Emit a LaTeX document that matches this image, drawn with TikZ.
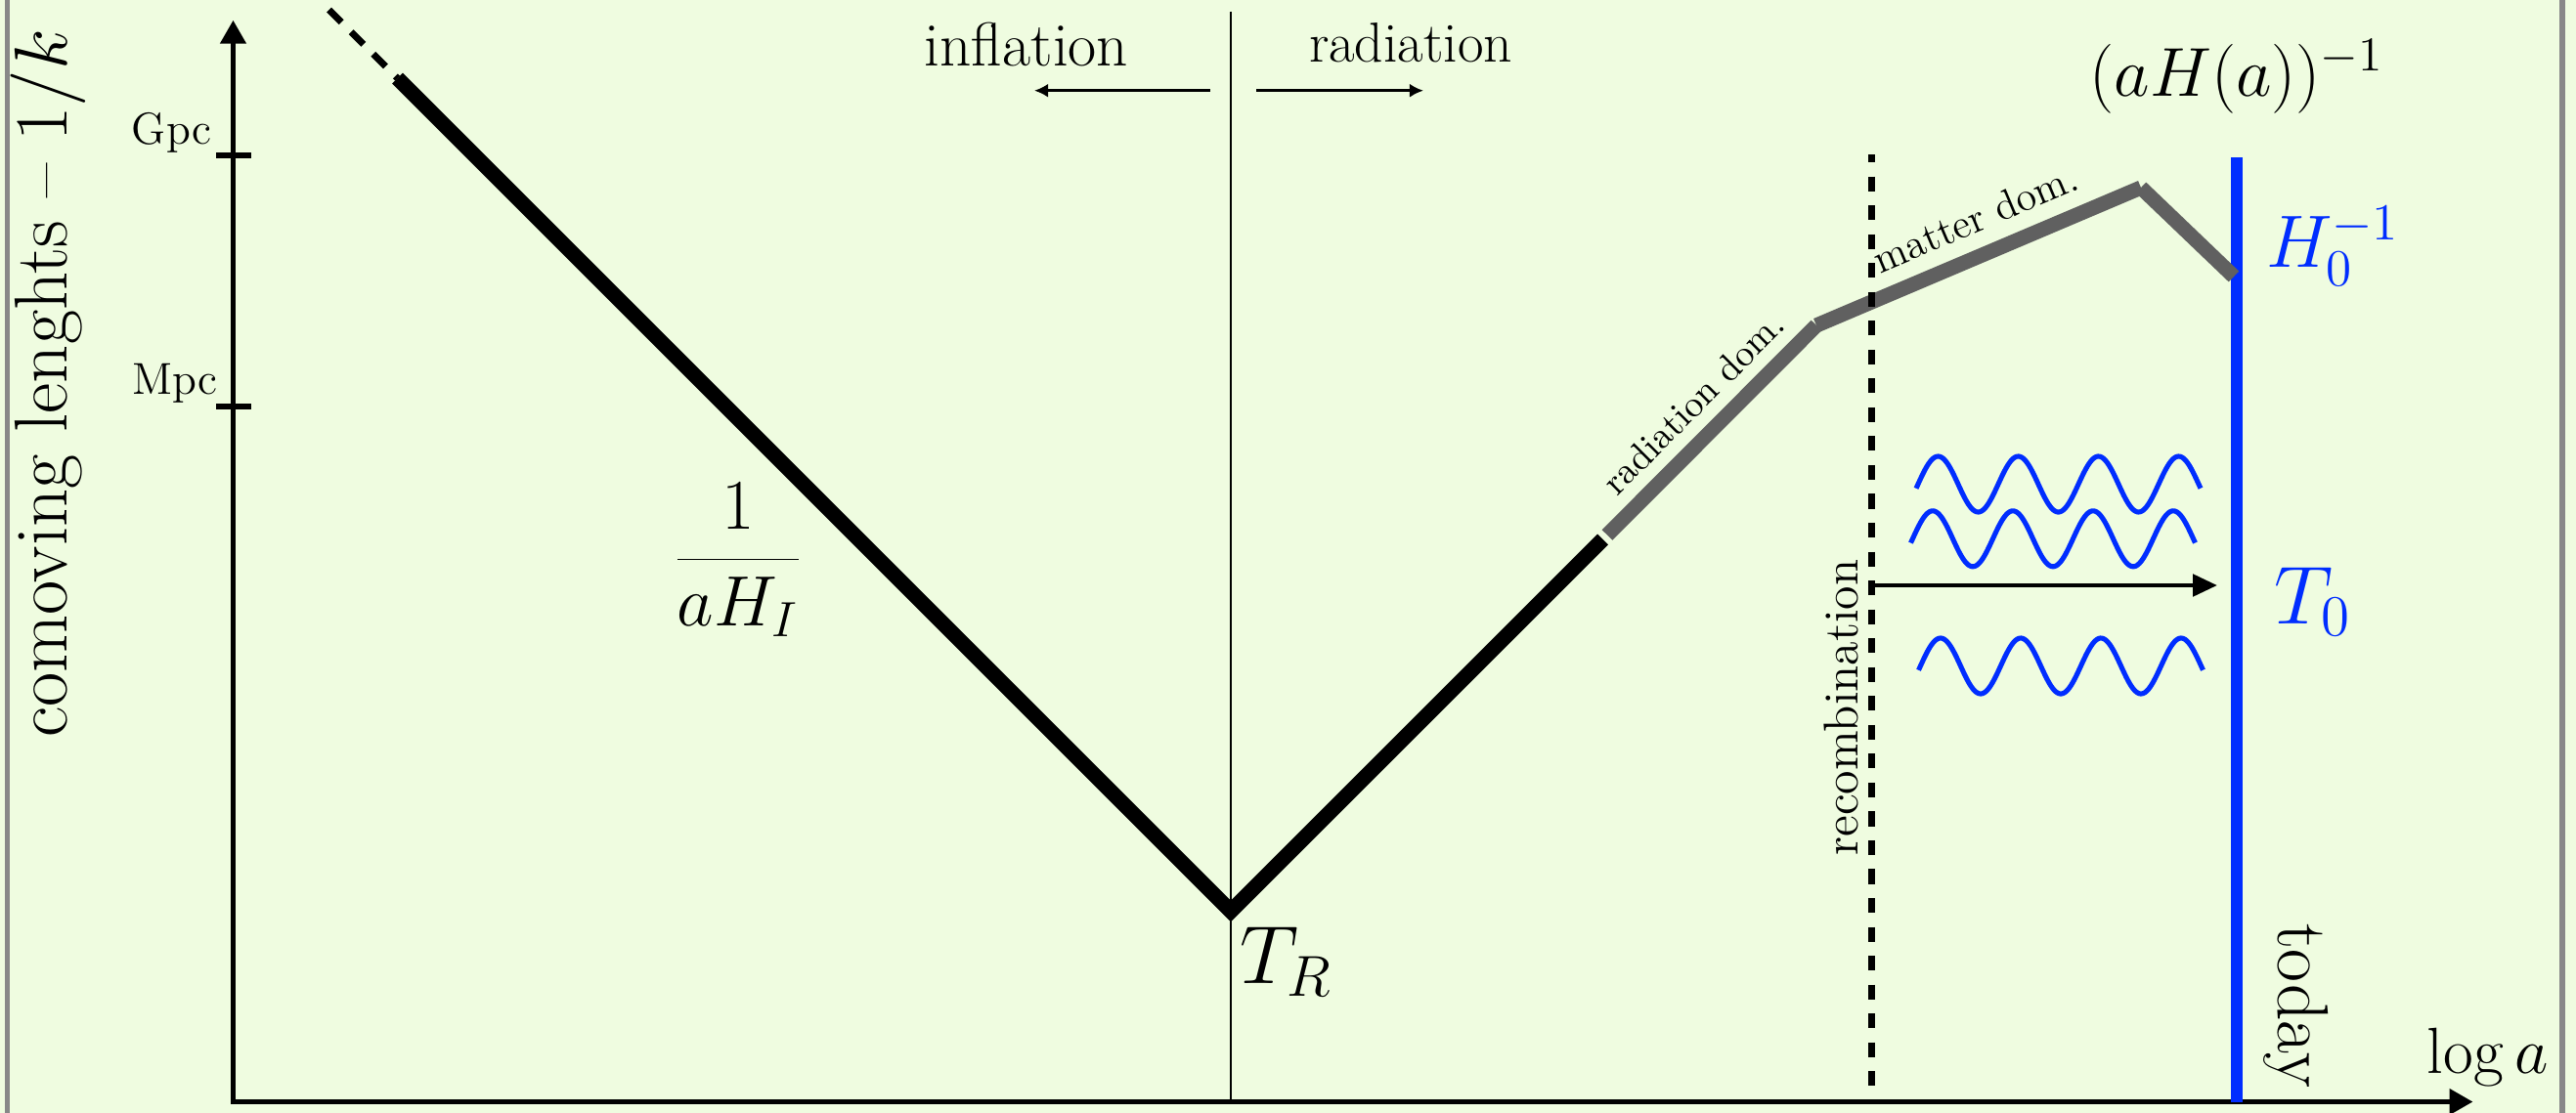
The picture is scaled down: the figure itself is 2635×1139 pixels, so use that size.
\RequirePackage{fix-cm}
\documentclass[tikz,border=0pt]{standalone}
\usetikzlibrary{arrows.meta}
\definecolor{bgc}{RGB}{239,252,224}
\definecolor{framec}{RGB}{136,136,136}
\definecolor{grayc}{RGB}{96,96,96}
\definecolor{bluec}{RGB}{0,45,255}
\newcommand{\fsz}[1]{\fontsize{#1}{#1}\selectfont}
\tikzset{
  lbl/.style={inner sep=0pt, outer sep=0pt},
  axisline/.style={line width=1.5pt, {Triangle[length=6.8pt,width=7.3pt]}-{Triangle[length=6.8pt,width=7.3pt]}},
  tickline/.style={line width=1.5pt},
  thinline/.style={line width=0.75pt},
  thinarrow/.style={line width=0.75pt, -{Latex[length=4pt,width=4pt]}},
  blackcurve/.style={line width=4.4pt},
  graycurve/.style={grayc, line width=4.3pt},
  leadin/.style={line width=2pt, dash pattern=on 5.1pt off 4pt},
  recline/.style={line width=1.85pt, dash pattern=on 4.3pt off 4.1pt, dash phase=2pt},
  todayline/.style={bluec, line width=3.6pt},
  photonarrow/.style={line width=1.34pt, -{Triangle[length=7.1pt,width=6.3pt]}},
  wave/.style={bluec, line width=1.45pt},
}
\begin{document}
\begin{tikzpicture}[x=0.01cm,y=-0.01cm]
\useasboundingbox (0,0) rectangle (2635,1139);
\fill[bgc] (0,0) rectangle (2635,1139);
\draw[framec, line width=1.45pt] (7.5,0) -- (7.5,1139);
\draw[framec, line width=1.5pt] (2621,0) -- (2621,1139);

% axes
\coordinate (O) at (238.5,1127.5);
\coordinate (Ytip) at (238.5,20.7);
\coordinate (Xtip) at (2529.5,1127.5);
\draw[axisline] (Ytip) -- (O) -- (Xtip);

% ticks
\coordinate (gpcL) at (221,159);
\coordinate (gpcR) at (257,159);
\coordinate (mpcL) at (221,416);
\coordinate (mpcR) at (257,416);
\draw[tickline] (gpcL) -- (gpcR);
\draw[tickline] (mpcL) -- (mpcR);
\node[lbl, anchor=base east, font=\fsz{13pt}] (gpc) at (216,147) {Gpc};
\node[lbl, anchor=base east, font=\fsz{13pt}] (mpc) at (222,403) {Mpc};

% y label
\node[lbl, rotate=90, anchor=base, font=\fsz{21.8pt}] (ylab) at (68,392.5) {comoving lenghts \textendash{} $1/k$};

% reheating line
\coordinate (trTop) at (1259,11.7);
\coordinate (trBot) at (1259,1127.5);
\draw[thinline] (trTop) -- (trBot);

\node[lbl, anchor=base, font=\fsz{18pt}] (infl) at (1050,67) {inflation};
\node[lbl, anchor=base, font=\fsz{16.4pt}] (rad) at (1443,63.5) {radiation};
\coordinate (ia1) at (1238,92.7);
\coordinate (ia2) at (1058,92.7);
\coordinate (ra1) at (1285,92.7);
\coordinate (ra2) at (1456,92.7);
\draw[thinarrow] (ia1) -- (ia2);
\draw[thinarrow] (ra1) -- (ra2);

% today line
\coordinate (bTop) at (2288,161);
\coordinate (bBot) at (2288,1127.5);
\draw[todayline] (bTop) -- (bBot);

% Hubble radius curve
\coordinate (d0) at (336.5,10);
\coordinate (d1) at (406.5,80);
\coordinate (V) at (1259,932.5);
\coordinate (R1) at (1639.5,552);
\coordinate (R1g) at (1644,547.5);
\coordinate (K) at (1858,333);
\coordinate (P) at (2190,192);
\coordinate (E) at (2285,283);
\draw[leadin] (d0) -- (d1);
\draw[blackcurve] (d1) -- (V) -- (R1);
\draw[graycurve] (R1g) -- (K);
\draw[graycurve] (K) -- (P);
\draw[graycurve] (P) -- (E);

% recombination
\coordinate (rTop) at (1914.5,158);
\coordinate (rBot) at (1914.5,1127.5);
\draw[recline] (rTop) -- (rBot);
\coordinate (aS) at (1914.5,599);
\coordinate (aE) at (2268,599);
\draw[photonarrow] (aS) -- (aE);

% photon waves
\foreach \xs/\yc in {1960/495.5, 1954.5/551.3, 1962.5/681.5} {
  \draw[wave, domain=-0.15:22.14, samples=220, smooth, variable=\t]
    plot ({\xs + (\t+0.15)*291/22.29}, {\yc - 28.5*sin(\t r)});
}

% labels
\node[lbl, font=\fsz{20.74pt}] (frac) at (755,573) {$\displaystyle\frac{1}{aH_I}$};
\node[lbl, anchor=base west, font=\fsz{24pt}] (TR) at (1268,1006.7) {$T_R$};
\node[lbl, anchor=base, rotate=45, font=\fsz{10.8pt}] (rdom) at (1741,421.5) {radiation dom.};
\node[lbl, anchor=base, rotate=23, font=\fsz{11.9pt}] (mdom) at (2026,236.5) {matter dom.};
\node[lbl, anchor=base, font=\fsz{20.16pt}] (aHa) at (2288,98) {$(aH(a))^{-1}$};
\node[lbl, anchor=base west, text=bluec, font=\fsz{21.6pt}] (H0) at (2318,273.3) {$H_0^{-1}$};
\node[lbl, anchor=base west, text=bluec, font=\fsz{24pt}] (T0) at (2326,638) {$T_0$};
\node[lbl, anchor=base, rotate=90, font=\fsz{14.2pt}] (recomb) at (1900,724) {recombination};
\node[lbl, anchor=base, rotate=-90, font=\fsz{21pt}] (today) at (2330,1029) {today};
\node[lbl, anchor=base, font=\fsz{19pt}] (loga) at (2545,1098) {$\log a$};
\end{tikzpicture}
\end{document}
